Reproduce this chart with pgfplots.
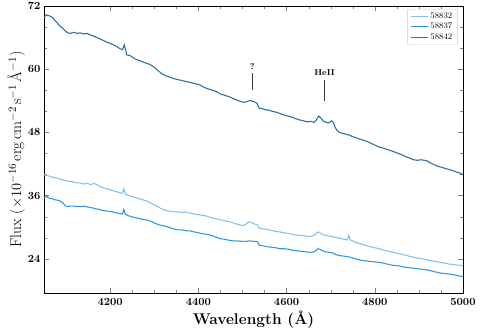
\documentclass[border=0pt]{standalone}
\usepackage{pgfplots}
\pgfplotsset{compat=1.18}
\definecolor{cLight}{RGB}{133,193,233}
\definecolor{cMed}{RGB}{52,152,219}
\definecolor{cDark}{RGB}{40,116,166}
\begin{document}
\begin{tikzpicture}
\path[use as bounding box] (-44pt,-39pt) rectangle (438pt,293pt);
\begin{axis}[
  scale only axis, width=419pt, height=287pt,
  xmin=4050, xmax=5000, ymin=17.5, ymax=72,
  xtick={4200,4400,4600,4800,5000}, minor x tick num=3,
  ytick={24,36,48,60,72}, minor y tick num=2,
  /pgf/number format/1000 sep={},
  tick align=inside, major tick length=5pt, minor tick length=3pt,
  xticklabel style={font=\fontsize{11}{13}\selectfont\boldmath, yshift=-1.5pt},
  yticklabel style={font=\fontsize{11}{13}\selectfont\boldmath},
  xlabel={\bfseries Wavelength (\AA)},
  ylabel={Flux ($\times10^{-16}\,$erg$\,$cm$^{-2}\,$s$^{-1}\,$\AA$^{-1}$)},
  xlabel style={font=\fontsize{15.5}{18}\selectfont, yshift=1pt},
  ylabel style={font=\fontsize{15.5}{18}\selectfont, yshift=-4pt},
  legend style={at={(0.987,0.99)}, anchor=north east, font=\fontsize{8.5}{10}\selectfont, draw=black!20, rounded corners=1pt, row sep=-1pt},
  legend cell align=left,
  every axis plot/.append style={line width=1.1pt},
]
\addplot[cLight] coordinates {
(4050,40.0)(4056,39.8)(4062,39.7)(4068,39.5)(4074,39.4)(4080,39.3)(4086,39.1)(4093,39.0)(4100,38.8)(4108,38.7)
(4116,38.6)(4124,38.4)(4132,38.4)(4140,38.2)(4148,38.3)(4156,38.1)(4164,38.3)(4172,38.0)(4180,37.6)(4188,37.4)
(4196,37.2)(4204,37.0)(4212,36.8)(4220,36.6)(4227,36.4)(4231,37.3)(4234,36.3)(4242,36.0)(4250,35.8)(4258,35.6)
(4266,35.4)(4274,35.2)(4282,35.0)(4290,34.7)(4298,34.3)(4306,34.0)(4314,33.6)(4322,33.3)(4330,33.1)(4338,33.0)
(4346,32.9)(4354,32.9)(4362,32.8)(4370,32.9)(4381,32.7)(4390,32.5)(4398,32.4)(4406,32.3)(4414,32.2)(4422,32.0)
(4430,31.8)(4440,31.6)(4450,31.4)(4460,31.2)(4472,31.0)(4480,30.8)(4490,30.5)(4501,30.3)(4508,30.6)(4514,31.0)
(4520,30.9)(4527,30.6)(4533,30.5)(4538,29.8)(4545,29.7)(4555,29.6)(4565,29.4)(4575,29.2)(4585,29.1)(4595,28.9)
(4605,28.8)(4615,28.6)(4625,28.5)(4635,28.4)(4645,28.3)(4653,28.2)(4660,28.4)(4666,28.7)(4671,29.1)(4676,28.9)
(4682,28.6)(4690,28.4)(4698,28.3)(4705,28.2)(4712,28.0)(4720,27.9)(4730,27.7)(4738,27.6)(4741,28.5)(4744,27.6)
(4752,27.3)(4760,27.0)(4770,26.8)(4780,26.5)(4790,26.3)(4800,26.1)(4810,25.9)(4818,25.7)(4828,25.5)(4838,25.3)
(4848,25.1)(4858,24.9)(4868,24.7)(4878,24.5)(4888,24.3)(4898,24.1)(4908,24.0)(4918,23.8)(4928,23.6)(4938,23.5)
(4948,23.3)(4958,23.2)(4968,23.0)(4978,22.9)(4988,22.8)(5000,22.7)
};
\addlegendentry{58832}
\addplot[cMed] coordinates {
(4050,35.6)(4056,35.8)(4062,35.5)(4068,35.4)(4075,35.2)(4082,35.1)(4088,34.9)(4093,34.6)(4098,34.1)(4102,33.9)
(4110,34.0)(4118,34.0)(4126,33.9)(4134,33.9)(4142,34.0)(4150,33.8)(4158,33.7)(4166,33.5)(4174,33.4)(4182,33.2)
(4190,33.1)(4198,33.0)(4206,32.9)(4214,32.7)(4222,32.6)(4228,32.5)(4231,33.4)(4234,32.5)(4240,32.2)(4248,32.0)
(4256,31.8)(4264,31.7)(4272,31.5)(4280,31.4)(4290,31.2)(4298,30.9)(4306,30.6)(4312,30.4)(4320,30.3)(4328,30.1)
(4336,29.9)(4344,29.7)(4352,29.5)(4360,29.5)(4368,29.4)(4375,29.3)(4381,29.3)(4390,29.1)(4398,29.0)(4406,28.8)
(4414,28.7)(4422,28.6)(4430,28.4)(4440,28.1)(4450,27.8)(4460,27.7)(4470,27.5)(4478,27.4)(4488,27.4)(4498,27.3)
(4508,27.3)(4518,27.4)(4526,27.3)(4533,27.3)(4538,26.6)(4545,26.5)(4555,26.3)(4565,26.2)(4575,26.1)(4585,25.9)
(4595,25.9)(4605,25.8)(4615,25.6)(4625,25.5)(4635,25.4)(4645,25.3)(4653,25.2)(4660,25.3)(4666,25.5)(4671,25.9)
(4676,25.8)(4682,25.5)(4690,25.3)(4698,25.2)(4705,25.1)(4712,24.8)(4720,24.6)(4730,24.5)(4738,24.4)(4744,24.3)
(4752,24.1)(4760,23.9)(4770,23.7)(4780,23.6)(4790,23.5)(4800,23.4)(4810,23.3)(4818,23.2)(4828,23.0)(4838,22.8)
(4848,22.7)(4858,22.6)(4868,22.4)(4878,22.3)(4888,22.2)(4898,22.1)(4908,22.0)(4918,21.9)(4928,21.7)(4938,21.5)
(4948,21.3)(4958,21.2)(4968,21.1)(4978,21.0)(4988,20.8)(5000,20.6)
};
\addlegendentry{58837}
\addplot[cDark] coordinates {
(4050,69.8)(4055,70.3)(4060,70.2)(4065,70.0)(4070,69.8)(4075,69.2)(4080,68.8)(4086,68.2)(4092,67.8)(4098,67.3)
(4104,66.9)(4110,66.8)(4118,67.0)(4125,66.8)(4132,66.9)(4140,66.7)(4148,66.8)(4155,66.5)(4162,66.3)(4170,66.0)
(4178,65.7)(4186,65.4)(4193,65.1)(4200,64.9)(4208,64.6)(4215,64.3)(4222,63.9)(4228,63.7)(4232,64.6)(4234,64.0)
(4238,62.7)(4245,62.6)(4252,62.2)(4260,61.8)(4268,61.6)(4276,61.3)(4284,61.1)(4292,60.8)(4298,60.5)(4305,60.0)
(4312,59.5)(4318,59.1)(4325,58.8)(4335,58.5)(4345,58.2)(4355,58.0)(4365,57.8)(4375,57.6)(4385,57.4)(4395,57.2)
(4404,57.0)(4412,56.6)(4420,56.3)(4428,56.1)(4436,55.9)(4442,55.7)(4450,55.3)(4458,55.1)(4465,54.9)(4472,54.7)
(4480,54.4)(4488,54.1)(4495,53.9)(4502,53.7)(4508,53.8)(4515,54.0)(4520,54.0)(4527,53.8)(4533,53.5)(4538,52.6)
(4545,52.5)(4552,52.3)(4560,52.2)(4568,52.0)(4578,51.8)(4588,51.5)(4598,51.2)(4608,51.0)(4618,50.7)(4628,50.4)
(4638,50.2)(4648,50.0)(4655,50.1)(4662,49.9)(4668,50.4)(4673,51.1)(4678,50.7)(4684,50.1)(4690,49.9)(4696,49.8)
(4702,50.2)(4706,49.9)(4710,49.0)(4714,48.4)(4720,48.0)(4728,47.8)(4736,47.6)(4742,47.5)(4750,47.2)(4760,46.9)
(4770,46.6)(4782,46.3)(4792,45.9)(4800,45.6)(4810,45.2)(4820,45.0)(4830,44.7)(4841,44.4)(4850,44.1)(4860,43.8)
(4870,43.4)(4880,43.1)(4888,42.8)(4896,42.7)(4905,42.8)(4912,42.7)(4918,42.6)(4926,42.2)(4934,41.9)(4942,41.6)
(4950,41.4)(4958,41.2)(4966,41.0)(4975,40.8)(4984,40.5)(4992,40.3)(5000,40.0)
};
\addlegendentry{58842}
\draw[line width=0.8pt, black!75] (axis cs:4522,56.0) -- (axis cs:4522,59.2);
\node[font=\fontsize{8.5}{10}\selectfont\bfseries] at (axis cs:4522,60.6) {?};
\draw[line width=0.8pt, black!75] (axis cs:4686,53.9) -- (axis cs:4686,57.9);
\node[font=\fontsize{8.5}{10}\selectfont\bfseries] at (axis cs:4686,59.4) {HeII};
\end{axis}
\end{tikzpicture}
\end{document}
